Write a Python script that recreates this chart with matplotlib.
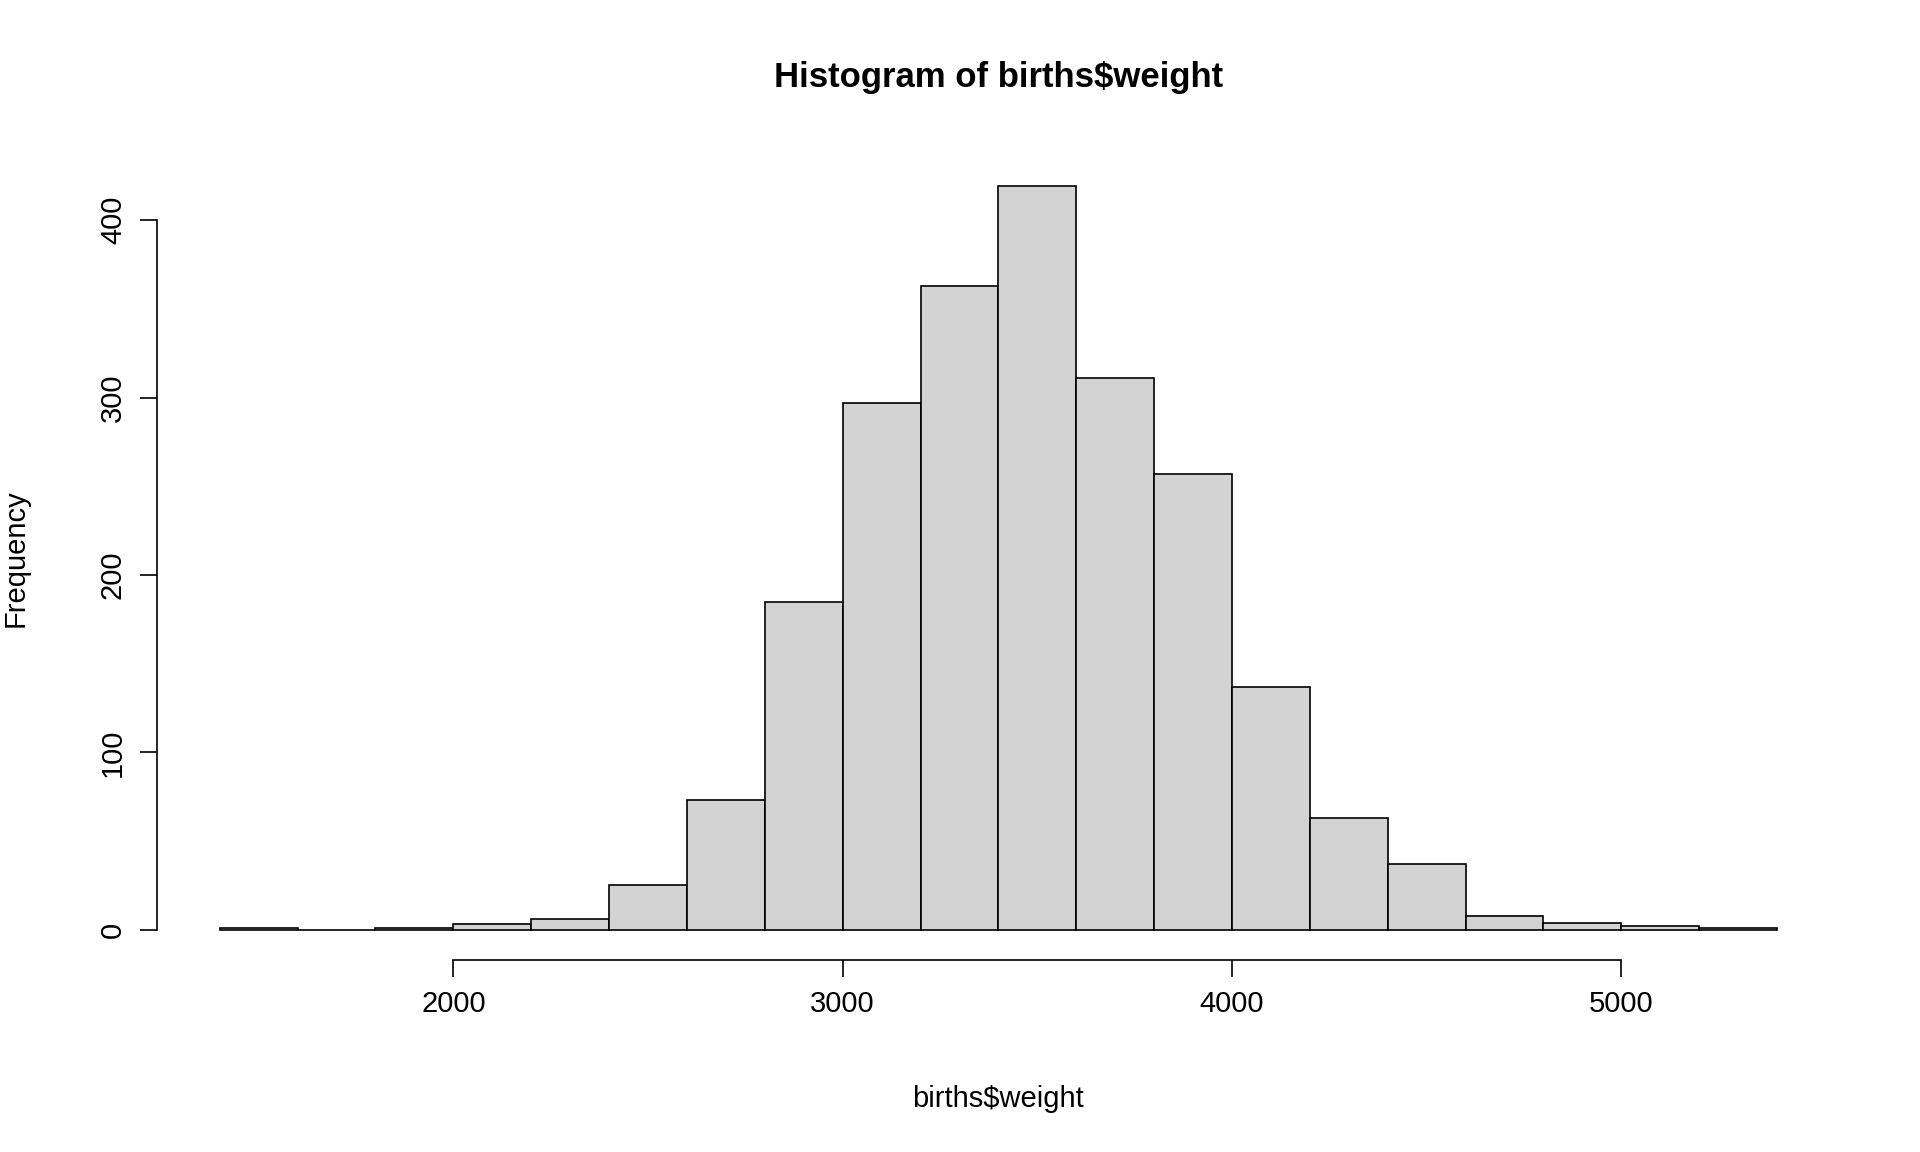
import numpy as np
import matplotlib.pyplot as plt

plt.rcParams['font.family'] = ['Liberation Sans', 'DejaVu Sans']

bin_edges = np.arange(1400, 5401, 200)
counts = [1, 0, 1, 3, 6, 25, 73, 185, 297, 363, 419, 311, 257, 137, 63, 37, 8, 4, 2, 1]

fig = plt.figure(figsize=(19.2, 11.52), dpi=100)
ax = fig.add_axes([0.082, 0.167, 0.876, 0.697])
ax.bar(bin_edges[:-1], counts, width=200, align='edge',
       color='#d3d3d3', edgecolor='black', linewidth=1.2)

ax.set_xlim(1240, 5560)
ax.set_ylim(-16.8, 435.8)
for s in ['top', 'right']:
    ax.spines[s].set_visible(False)
ax.spines['bottom'].set_bounds(2000, 5000)
ax.spines['left'].set_bounds(0, 400)
ax.set_xticks([2000, 3000, 4000, 5000])
ax.set_yticks([0, 100, 200, 300, 400])
ax.set_yticklabels(['0', '100', '200', '300', '400'], rotation=90, va='center')
ax.tick_params(labelsize=21, length=12, width=1.2, pad=10)
for s in ['bottom', 'left']:
    ax.spines[s].set_linewidth(1.2)

ax.set_xlabel('births$weight', fontsize=21, labelpad=48)
ax.set_ylabel('Frequency', fontsize=21, labelpad=50)
ax.set_title('Histogram of births$weight', fontsize=25, fontweight='bold', pad=110 - 60)

fig.savefig('out.png', dpi=100)
